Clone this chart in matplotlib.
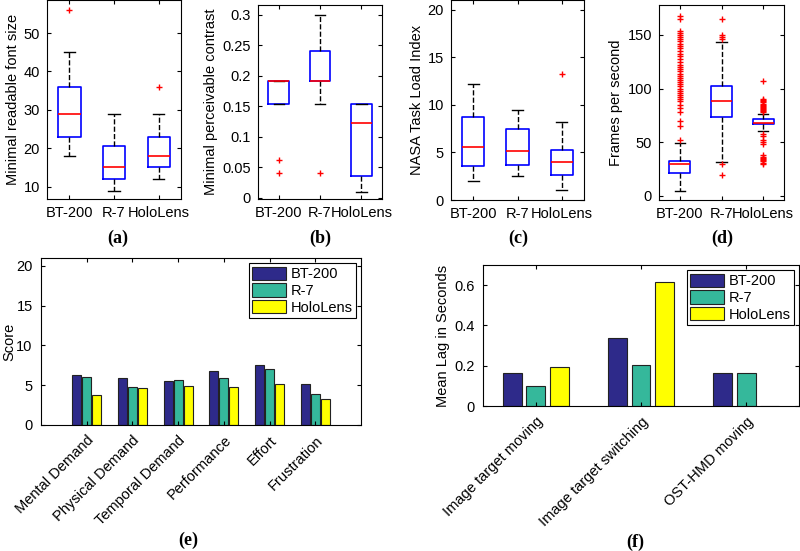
import matplotlib
matplotlib.use("Agg")
import matplotlib.pyplot as plt

plt.rcParams['font.family'] = ['Liberation Sans', 'DejaVu Sans']
plt.rcParams['font.size'] = 10.5

devices = ["BT-200", "R-7", "HoloLens"]

# box stats: (whislo, q1, med, q3, whishi)
font_size_box = [(18, 23, 29, 36, 45), (9, 12, 15, 20.5, 29), (12, 15, 18, 23, 29)]
font_size_fliers = [[56], [], [36]]

contrast_box = [(0.154, 0.154, 0.192, 0.192, 0.192), (0.154, 0.192, 0.192, 0.24, 0.30),
                (0.01, 0.036, 0.123, 0.154, 0.154)]
contrast_fliers = [[0.0625, 0.04], [0.04], []]

tlx_box = [(2.0, 3.6, 5.6, 8.7, 12.2), (2.5, 3.7, 5.1, 7.5, 9.4), (1.0, 2.6, 4.0, 5.3, 8.2)]
tlx_fliers = [[], [], [13.2]]

fps_box = [(4.3, 21.4, 29.5, 32.6, 49.4), (31.4, 73.6, 88.2, 102, 143.5), (60, 66.5, 68, 71.4, 76.7)]
fps_fliers = [
    [52, 65, 70, 78, 82, 85, 88, 90, 92, 94, 96, 98, 100, 102, 104, 106, 108, 110, 112, 114,
     116, 118, 120, 122, 125, 128, 130, 132, 135, 138, 140, 142, 144, 146, 148, 150, 152, 154,
     165, 168],
    [19.5, 30, 146, 148, 150, 164.5],
    [78, 79, 80, 81, 82, 83, 84, 85, 86, 87, 88, 89, 90, 107,
     58, 56, 52, 50, 48, 38, 36, 35, 34, 33, 32, 31, 30],
]

tlx_categories = ["Mental Demand", "Physical Demand", "Temporal Demand",
                  "Performance", "Effort", "Frustration"]
tlx_bt200 = [6.3, 5.9, 5.5, 6.8, 7.6, 5.1]
tlx_r7 = [6.0, 4.8, 5.6, 5.9, 7.0, 3.9]
tlx_holo = [3.8, 4.7, 4.9, 4.8, 5.2, 3.3]

lag_categories = ["Image target moving", "Image target switching", "OST-HMD moving"]
lag_bt200 = [0.163, 0.337, 0.162]
lag_r7 = [0.098, 0.205, 0.165]
lag_holo = [0.193, 0.617, 0.0]

bar_colors = ["#2e2a8a", "#35b89b", "#ffff00"]

W, H = 800, 551
fig = plt.figure(figsize=(8, 5.51), dpi=100)


def px_axes(x0, y0, x1, y1):
    return fig.add_axes([x0 / W, 1 - y1 / H, (x1 - x0) / W, (y1 - y0) / H])


def panel_label(text, x, y):
    fig.text(x / W, 1 - y / H, text, family="Liberation Serif", weight="bold",
             fontsize=13, ha="center", va="center")


def boxpanel(ax, boxes, fliers, ylabel, ylim, yticks):
    stats = []
    for (lo, q1, med, q3, hi), fl in zip(boxes, fliers):
        stats.append(dict(whislo=lo, q1=q1, med=med, q3=q3, whishi=hi, fliers=fl))
    ax.bxp(stats, positions=[1, 2, 3], widths=0.5,
           boxprops=dict(color="blue", linewidth=1.2),
           medianprops=dict(color="red", linewidth=1.2),
           whiskerprops=dict(color="black", linestyle="--", linewidth=1.0),
           capprops=dict(color="black", linewidth=1.0),
           flierprops=dict(marker="+", markeredgecolor="red", markersize=5, linestyle="none"),
           capwidths=0.25)
    ax.set_xlim(0.5, 3.5)
    ax.set_ylim(*ylim)
    ax.set_yticks(yticks)
    ax.set_xticks([1, 2, 3])
    ax.set_xticklabels(devices)
    ax.set_ylabel(ylabel, labelpad=3)
    ax.tick_params(direction="in", length=3, top=True, right=True, pad=5)


ax_a = px_axes(47, 0, 181, 199)
boxpanel(ax_a, font_size_box, font_size_fliers, "Minimal readable font size",
         (6.8, 58.6), [10, 20, 30, 40, 50])
panel_label("(a)", 118, 238)

ax_b = px_axes(258, 5, 382, 199)
boxpanel(ax_b, contrast_box, contrast_fliers, "Minimal perceivable contrast",
         (-0.002, 0.316), [0, 0.05, 0.1, 0.15, 0.2, 0.25, 0.3])
ax_b.set_yticklabels(["0", "0.05", "0.1", "0.15", "0.2", "0.25", "0.3"])
panel_label("(b)", 320, 238)

ax_c = px_axes(451, 0, 584, 200)
boxpanel(ax_c, tlx_box, tlx_fliers, "NASA Task Load Index",
         (0, 21), [0, 5, 10, 15, 20])
panel_label("(c)", 518, 238)

ax_d = px_axes(659, 5, 784, 200)
boxpanel(ax_d, fps_box, fps_fliers, "Frames per second",
         (-4, 178), [0, 50, 100, 150])
panel_label("(d)", 722, 238)


def barpanel(ax, cats, series, ylabel, xlim, ylim, yticks, width, off, lpad):
    x = list(range(1, len(cats) + 1))
    for i, (vals, c) in enumerate(zip(series, bar_colors)):
        xs = [p + (i - 1) * off for p in x]
        ax.bar(xs, vals, width=width, color=c, edgecolor="#222222", linewidth=0.8,
               label=devices[i])
    ax.set_xlim(*xlim)
    ax.set_ylim(*ylim)
    ax.set_yticks(yticks)
    ax.set_xticks(x)
    ax.set_xticklabels(cats, rotation=45, ha="right", rotation_mode="anchor")
    ax.set_ylabel(ylabel, labelpad=lpad)
    ax.tick_params(direction="in", length=3, top=True, right=True, pad=6)
    leg = ax.legend(loc="upper right", fancybox=False, framealpha=1, edgecolor="black",
                    borderpad=0.25, labelspacing=0.15, handlelength=2.3, handleheight=1.0,
                    handletextpad=0.3, borderaxespad=0.35, fontsize=10.5)
    leg.get_frame().set_linewidth(0.8)


ax_e = px_axes(41, 258, 361, 425)
barpanel(ax_e, tlx_categories, [tlx_bt200, tlx_r7, tlx_holo], "Score",
         (0, 7), (0, 21), [0, 5, 10, 15, 20], 0.2, 0.22, 0)
panel_label("(e)", 188, 540)

ax_f = px_axes(483, 265, 799, 406)
barpanel(ax_f, lag_categories, [lag_bt200, lag_r7, lag_holo], "Mean Lag in Seconds",
         (0.5, 3.5), (0, 0.7), [0, 0.2, 0.4, 0.6], 0.18, 0.224, 3)
ax_f.set_yticklabels(["0", "0.2", "0.4", "0.6"])
panel_label("(f)", 635, 542)

fig.savefig("out.png", dpi=100)
